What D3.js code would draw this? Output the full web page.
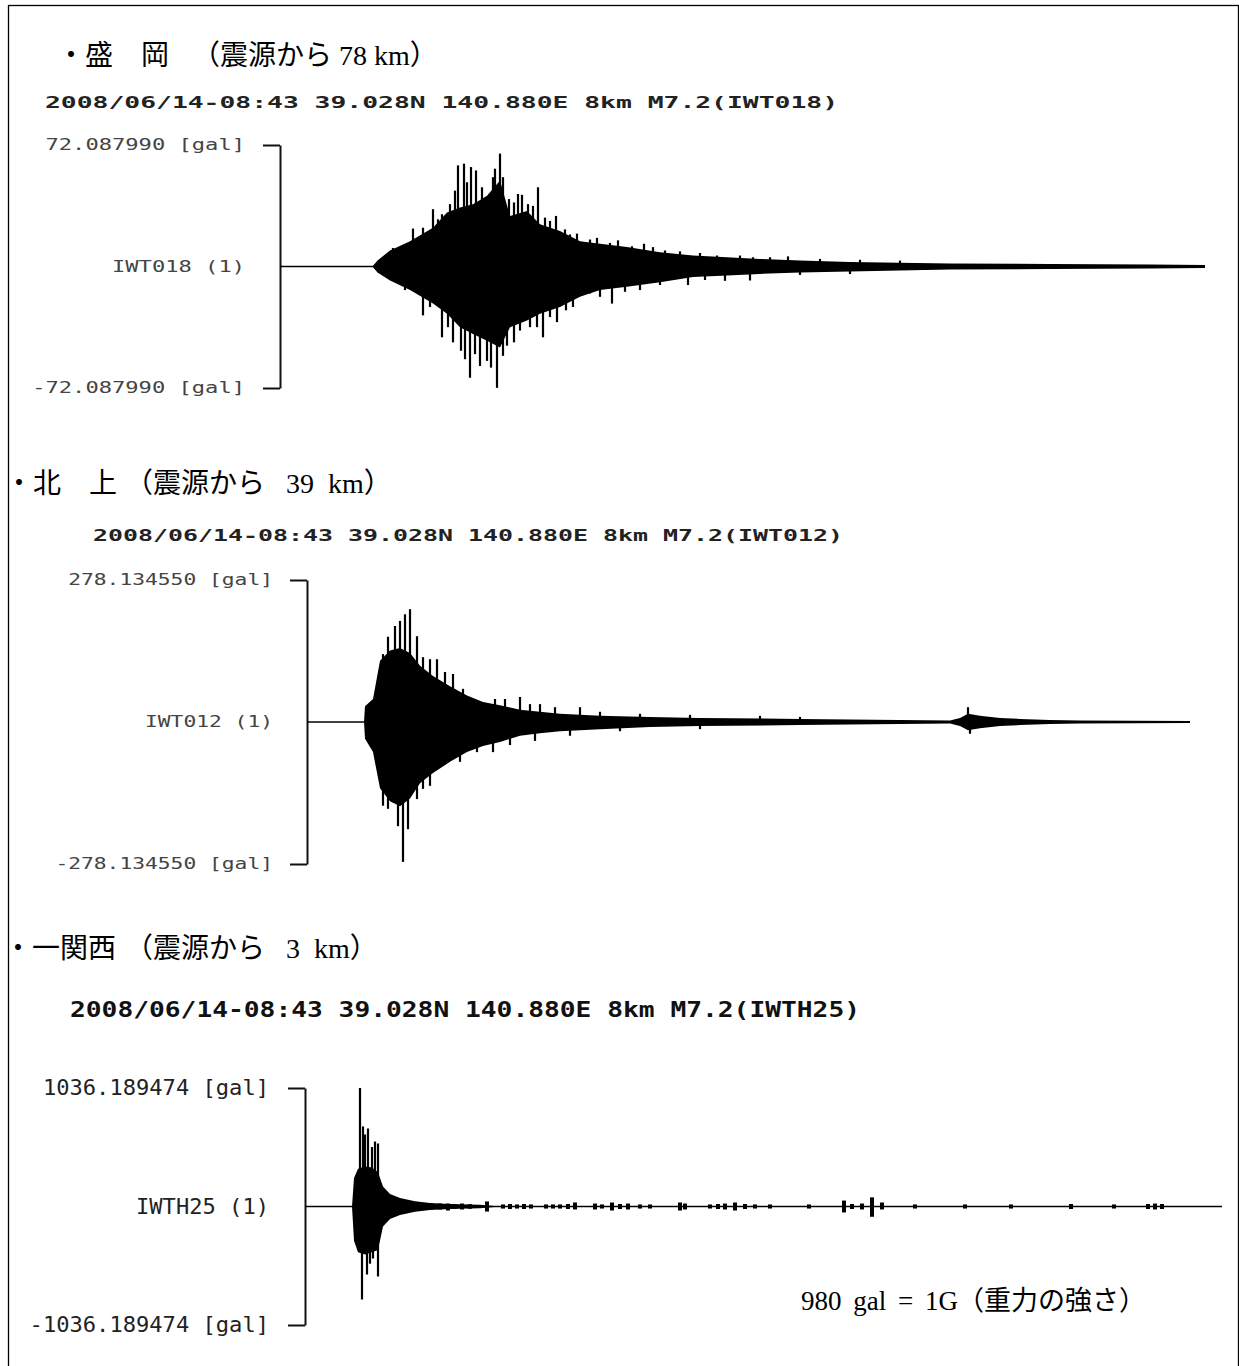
<!DOCTYPE html>
<html>
<head>
<meta charset="utf-8">
<script src="https://cdn.jsdelivr.net/npm/d3@7"></script>
<style>
  body { margin: 0; background: #fff; }
  svg { display: block; }
</style>
</head>
<body>
<div id="chart"></div>
<script>
//Chart data (time in s, acceleration in gal)
const eventInfo = "2008/06/14-08:43 39.028N 140.880E 8km M7.2";
const stationNames = ["・盛　岡", "・北　上", "・一関西"];
const distanceLabels = ["（震源から 78 km）", "（震源から   39  km）", "（震源から   3  km）"];
const stationCodes = ["IWT018", "IWT012", "IWTH25"];
const peakGal = [72.087990, 278.134550, 1036.189474];
const durationSec = [185, 176.6, 183.4];
const noteLatin = "980 gal = 1G";
const noteJapanese = "（重力の強さ）";

//Morioka: envelope [t, upper, lower] and single peaks [t, gal]
const coreMorioka = [
  [18.6, 0.5, -0.5], [19.5, 3.6, -3.6], [22, 9.5, -8.3], [26, 15, -14], [30.6, 23, -22],
  [33.4, 32, -28], [36, 35, -36], [38.6, 37, -40], [41.4, 42, -44], [44, 51, -48],
  [46, 30, -36], [49.4, 33, -32], [52, 25, -28], [56, 21, -24], [60, 15, -18],
  [64, 13.5, -14], [69.4, 11.5, -12], [76, 8.5, -9.3], [82.6, 6.5, -6.3], [89.4, 5.5, -5.3],
  [96, 4.5, -4.4], [104, 3.6, -3.6], [114, 2.6, -3], [134, 1.8, -1.8], [154, 1.5, -1.5],
  [174, 1.2, -1.2], [185, 0.9, -0.9]
];
const peaksMorioka = [
  [22.6, 11], [26.6, 22.5], [28.6, 23], [30.6, 34], [31.6, 28], [32.4, 31], [34, 37],
  [35, 45], [35.6, 60], [36.8, 61], [37.4, 50], [38.2, 59], [39.2, 57], [40.4, 47],
  [42.6, 53], [43, 58], [44, 67], [44.6, 53], [45.8, 40], [46.8, 38], [47.6, 43],
  [48.4, 42.5], [49.6, 37], [50.6, 36], [51.6, 47], [53, 29], [54, 27], [55.2, 30],
  [57, 22], [58, 19], [59.4, 19.5], [62, 16], [63.4, 17], [66, 14], [67.6, 15.5],
  [70.4, 12], [72.8, 13.5], [74.6, 11.5], [77, 9.5], [80, 9], [84, 8], [87.4, 6.5],
  [92, 6.5], [94.6, 5.5], [98, 5.5], [101.6, 6], [108, 4.5], [116, 4], [124, 3.5],
  [25, -14], [28.6, -29], [30, -24], [32.4, -42], [33.6, -36], [34.6, -45], [36.2, -50],
  [37, -55], [38, -66], [39, -52], [40, -59], [41.4, -56], [42.2, -60], [43.4, -72],
  [44.6, -53], [45.4, -47], [46.8, -45], [48, -38], [50, -36], [51.4, -36], [52.6, -42],
  [54, -30], [55.4, -33], [57.2, -26], [58.6, -24], [62, -16], [64, -18], [66.4, -22],
  [69, -15], [72, -14], [76, -11], [81.6, -11], [85, -8], [89, -8.5], [94, -8.3],
  [104, -5], [114, -4.5]
];

//Kitakami
const coreKitakami = [
  [11.4, 0, 0], [11.6, 31, -33], [13.2, 45, -59], [14.6, 120, -130], [16.6, 140, -155],
  [18.6, 145, -165], [20.6, 135, -150], [22.6, 110, -120], [25.2, 90, -100], [28.6, 70, -78],
  [32, 52, -59], [35.2, 39, -47], [38.6, 33, -39], [42.6, 24, -27], [46.6, 20, -22],
  [50.6, 16, -18], [58.6, 12, -14], [68.6, 10, -10], [78.6, 8, -8], [98.6, 6, -6],
  [118.6, 4, -4], [128.6, 3, -3], [130.6, 8, -8], [132.2, 16, -16], [134.6, 12, -12],
  [138.6, 8, -8], [142.6, 6, -6], [148.6, 4, -4], [154.6, 3, -3], [176.6, 2, -2]
];
const peaksKitakami = [
  [13, 41], [15.2, 133], [16.2, 167], [17.6, 188], [18.6, 198], [19.6, 211], [20.6, 221],
  [22, 168], [23.2, 127], [24.6, 123], [26, 123], [27.6, 98], [29.2, 94], [31.2, 65],
  [33.2, 45], [35.2, 39], [37.6, 45], [39.6, 45], [42.6, 49], [44.6, 35], [46.6, 35],
  [49.6, 29], [54.6, 29], [58.6, 20], [66.6, 16], [76.6, 14], [90.6, 12], [98.6, 10],
  [132.2, 29],
  [14, -59], [15.2, -164], [16.2, -170], [17.2, -157], [18.2, -204], [19.2, -274],
  [20.2, -210], [22, -151], [23.2, -131], [24.6, -125], [26, -86], [28, -78], [30.6, -78],
  [34, -59], [37.2, -59], [40.6, -45], [45.6, -37], [52.6, -27], [62.6, -18], [78.6, -14],
  [132.6, -23]
];

//Ichinoseki-nishi
const coreIchinoseki = [
  [9.4, 0, 0], [9.8, 250, -300], [10.6, 330, -400], [12, 350, -420], [13.4, 340, -400],
  [14.6, 300, -380], [15.6, 175, -175], [17, 110, -110], [19, 75, -75], [22, 45, -45],
  [25, 30, -30], [29, 22, -22], [35, 15, -15], [39, 0, 0]
];
const peaksIchinoseki = [
  [11, 1036], [11.6, 700], [12, 630], [12.6, 682], [13.4, 520], [14, 568], [14.6, 551],
  [11.4, -813], [12.4, -595], [13, -500], [13.6, -455], [14.6, -612]
];
const burstsIchinoseki = [
  [27, 26, -26], [28.6, 26, -35], [30, 20, -20], [31.4, 26, -26], [33, 20, -20],
  [36.4, 44, -44], [39.6, 18, -18], [41, 22, -22], [42.4, 18, -18], [43.8, 22, -22],
  [45.2, 18, -18], [48.2, 18, -18], [49.6, 18, -18], [51, 18, -18], [52.6, 22, -22],
  [54, 35, -26], [58, 26, -26], [59.4, 18, -18], [61.4, 35, -35], [63, 22, -22],
  [64.6, 26, -26], [67, 18, -18], [69, 18, -18], [75, 35, -35], [76, 26, -26],
  [81, 18, -18], [82.6, 22, -22], [84, 26, -26], [86, 35, -35], [88, 22, -22],
  [90, 18, -18], [93, 18, -18], [100.8, 18, -18], [107.8, 52, -52], [109.4, 22, -22],
  [111.4, 26, -26], [113.4, 80, -90], [115.4, 35, -26], [122, 18, -18], [132, 18, -18],
  [141.2, 18, -18], [153.2, 22, -22], [161.8, 18, -18], [168.6, 22, -22], [170, 26, -26],
  [171.4, 22, -22]
];

//Page layout for each panel
const panels = [
  { titleX: 57, titleY: 65, parenX: 192, subX: 45, subY: 108, subW: 793, subSize: 16, subColor: "#222",
    x0: 280, x1: 1205, yTop: 145, yBot: 388, labelSize: 15, charW: 13.3, pad: 18, labelColor: "#444",
    core: coreMorioka, peaks: peaksMorioka, bursts: [] },
  { titleX: 5, titleY: 493, parenX: 125, subX: 93, subY: 541, subW: 750, subSize: 15, subColor: "#222",
    x0: 307, x1: 1190, yTop: 580, yBot: 864, labelSize: 15, charW: 12.8, pad: 17, labelColor: "#444",
    core: coreKitakami, peaks: peaksKitakami, bursts: [] },
  { titleX: 4, titleY: 958, parenX: 125, subX: 70, subY: 1017, subW: 790, subSize: 22, subColor: "#111",
    x0: 305, x1: 1222, yTop: 1088, yBot: 1325, labelSize: 21, charW: 13.3, pad: 19, labelColor: "#222",
    core: coreIchinoseki, peaks: peaksIchinoseki, bursts: burstsIchinoseki }
];

const width = 1239;
const height = 1366;
const serif = "'Liberation Serif', 'Noto Sans CJK JP', serif";
const mono = "'DejaVu Sans Mono', 'Liberation Mono', monospace";

const svg = d3.select("#chart")
  .append("svg")
  .attr("width", width)
  .attr("height", height);

//Frame
svg.append("rect")
  .attr("x", 8.5)
  .attr("y", 5.5)
  .attr("width", width - 9)
  .attr("height", height + 10)
  .attr("fill", "none")
  .attr("stroke", "#000")
  .attr("stroke-width", 1.3);

const gal = v => (v < 0 ? "-" : "") + Math.abs(v).toFixed(6) + " [gal]";

panels.forEach((p, i) => {
  const g = svg.append("g");

  //Scales
  const x = d3.scaleLinear().domain([0, durationSec[i]]).range([p.x0, p.x1]);
  const y = d3.scaleLinear().domain([-peakGal[i], peakGal[i]]).range([p.yBot, p.yTop]);

  //Station title
  g.append("text")
    .attr("x", p.titleX)
    .attr("y", p.titleY)
    .style("font-family", serif)
    .style("font-size", "28px")
    .text(stationNames[i]);
  g.append("text")
    .attr("x", p.parenX)
    .attr("y", p.titleY)
    .attr("xml:space", "preserve")
    .style("white-space", "pre")
    .style("font-family", serif)
    .style("font-size", "28px")
    .text(distanceLabels[i]);

  //Event header
  const header = eventInfo + "(" + stationCodes[i] + ")";
  g.append("text")
    .attr("x", p.subX)
    .attr("y", p.subY)
    .attr("textLength", p.subW)
    .attr("lengthAdjust", "spacingAndGlyphs")
    .style("font-family", mono)
    .style("font-weight", "bold")
    .style("font-size", p.subSize + "px")
    .style("fill", p.subColor)
    .text(header);

  //Bracket axis
  const axis = d3.axisLeft(y)
    .tickValues([peakGal[i], 0, -peakGal[i]])
    .tickSize(17)
    .tickSizeOuter(0)
    .tickPadding(p.pad)
    .tickFormat(d => d === 0 ? stationCodes[i] + " (1)" : gal(d));

  const ax = g.append("g")
    .attr("transform", `translate(${p.x0},0)`)
    .call(axis);
  ax.select(".domain").attr("stroke", "#111").attr("stroke-width", 2);
  ax.selectAll(".tick line").attr("stroke", "#111").attr("stroke-width", 2)
    .attr("x2", d => d === 0 ? 0 : -17);
  ax.selectAll(".tick text")
    .attr("x", -(17 + p.pad))
    .style("font-family", mono)
    .style("font-size", p.labelSize + "px")
    .style("fill", p.labelColor)
    .attr("textLength", function () { return this.textContent.length * p.charW; })
    .attr("lengthAdjust", "spacingAndGlyphs");

  //Zero line
  g.append("line")
    .attr("x1", x(0))
    .attr("x2", x(durationSec[i]))
    .attr("y1", y(0))
    .attr("y2", y(0))
    .attr("stroke", "#000")
    .attr("stroke-width", 1.6);

  //Waveform body
  const area = d3.area()
    .x(d => x(d[0]))
    .y0(d => y(d[2]))
    .y1(d => y(d[1]));
  g.append("path")
    .datum(p.core)
    .attr("d", area)
    .attr("fill", "#000");

  //Single peaks
  g.selectAll(".peak")
    .data(p.peaks)
    .join("line")
    .attr("class", "peak")
    .attr("x1", d => x(d[0]))
    .attr("x2", d => x(d[0]))
    .attr("y1", y(0))
    .attr("y2", d => y(d[1]))
    .attr("stroke", "#000")
    .attr("stroke-width", 2.2);

  //Small bursts on the tail
  g.selectAll(".burst")
    .data(p.bursts)
    .join("line")
    .attr("class", "burst")
    .attr("x1", d => x(d[0]))
    .attr("x2", d => x(d[0]))
    .attr("y1", d => y(d[2]))
    .attr("y2", d => y(d[1]))
    .attr("stroke", "#000")
    .attr("stroke-width", 4);
});

//Note about gravity
const note = svg.append("text")
  .attr("x", 801)
  .attr("y", 1310)
  .style("font-family", serif)
  .style("font-size", "27px");
note.append("tspan")
  .style("word-spacing", "5px")
  .text(noteLatin);
note.append("tspan")
  .attr("x", 957)
  .text(noteJapanese);
</script>
</body>
</html>
